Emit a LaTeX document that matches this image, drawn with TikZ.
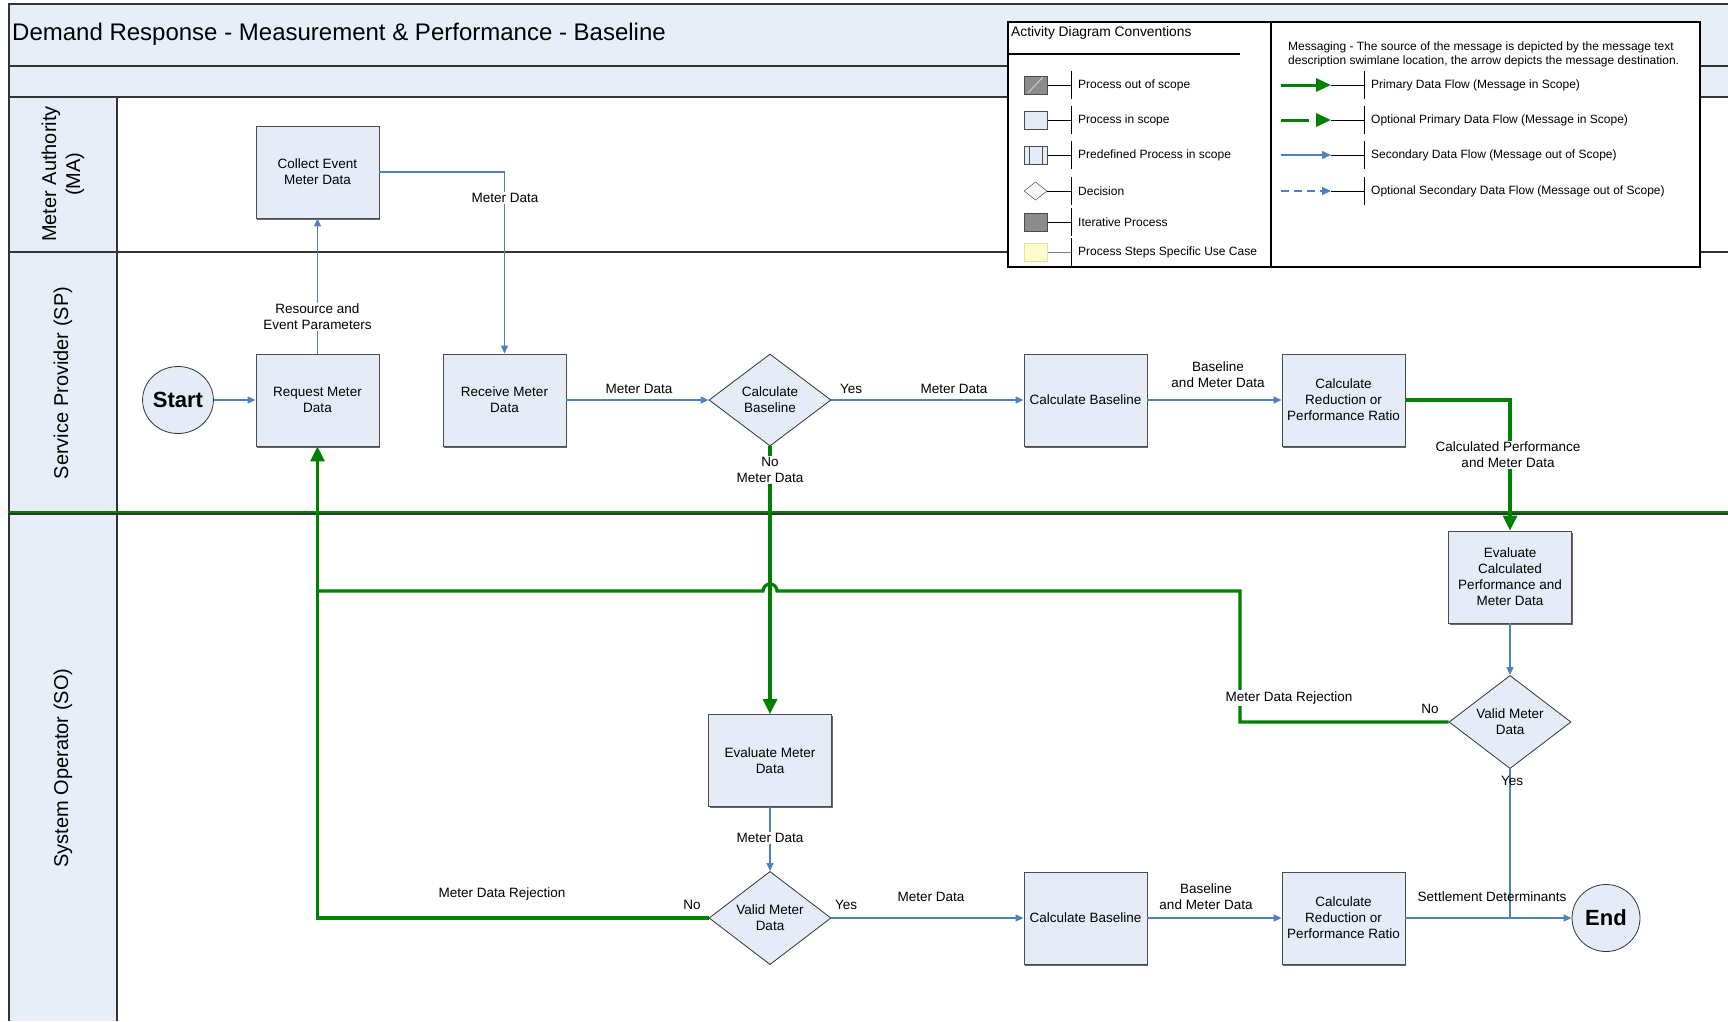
\documentclass[tikz,border=0pt]{standalone}
\usepackage{fontspec}
\setmainfont{Liberation Sans}
\usetikzlibrary{arrows.meta,shapes.geometric,shadows,calc}
\definecolor{lbl}{HTML}{E8EEF7}
\definecolor{boxfill}{HTML}{E6ECF7}
\definecolor{flowblue}{HTML}{4F81BD}
\definecolor{flowgreen}{HTML}{008000}
\begin{document}
\begin{tikzpicture}[x=1pt,y=-1pt,
  lbltext/.style={font=\fontsize{13.5}{16}\selectfont, align=center, inner sep=1.5pt},
  wlab/.style={lbltext, fill=white},
  proc/.style={draw=black!70, line width=0.9pt, fill=boxfill, minimum width=123pt, minimum height=92pt, align=center, font=\fontsize{13.5}{16}\selectfont, inner sep=1pt, drop shadow={shadow xshift=1pt, shadow yshift=-1.5pt, fill=black!60, opacity=1}},
  dec/.style={draw=black!80, line width=0.8pt, fill=boxfill, shape=diamond, minimum width=122pt, minimum height=92pt, inner sep=0pt, align=center, font=\fontsize{13.5}{16}\selectfont},
  term/.style={draw=black!80, line width=0.8pt, fill=boxfill, ellipse, minimum width=68pt, minimum height=67pt, inner sep=0pt, font=\fontsize{22}{24}\selectfont\bfseries},
  bflow/.style={draw=flowblue, line width=1.2pt, -{Triangle[length=8pt,width=7pt]}},
  bline/.style={draw=flowblue, line width=1.2pt},
  gflow/.style={draw=flowgreen, line width=3.2pt, -{Triangle[length=15pt,width=14pt]}},
  gline/.style={draw=flowgreen, line width=3.2pt},
  lane/.style={draw=black!80, line width=1.2pt},
  legtext/.style={font=\fontsize{12}{14}\selectfont, anchor=west, inner sep=0pt},
  legline/.style={draw=black, line width=0.8pt},
]
\useasboundingbox (0,0) rectangle (1728,1021);
\fill[white] (0,0) rectangle (1728,1021);
% bands and lanes
\fill[lbl] (9,4) rectangle (1728,97);
\fill[lbl] (9,97) rectangle (117,1021);
\draw[lane] (1728,4) -- (9,4) -- (9,1021);
\draw[lane] (9,66) -- (1728,66);
\draw[lane] (9,97) -- (1728,97);
\draw[lane] (9,252) -- (1728,252);
\draw[lane] (9,514) -- (1728,514);
\draw[lane] (117,97) -- (117,1021);
\draw[flowgreen, line width=2.5pt] (8,512.2) -- (1728,512.2);

\node[anchor=west, font=\fontsize{24}{28}\selectfont, inner sep=0pt] (title) at (12,34) {Demand Response - Measurement \& Performance - Baseline};

\node[rotate=90, align=center, font=\fontsize{20}{24}\selectfont] (laneMA) at (63,174) {Meter Authority\\(MA)};
\node[rotate=90, font=\fontsize{20}{24}\selectfont] (laneSP) at (63,383) {Service Provider (SP)};
\node[rotate=90, font=\fontsize{20}{24}\selectfont] (laneSO) at (63,768) {System Operator (SO)};

% process nodes
\node[proc] (collect) at (317.5,172) {Collect Event\\Meter Data};
\node[term] (start) at (178,400) {Start};
\node[proc] (request) at (317.5,400) {Request Meter\\Data};
\node[proc] (receive) at (504.5,400) {Receive Meter\\Data};
\node[dec] (calcdec) at (770,400) {Calculate\\Baseline};
\node[proc] (cbsp) at (1085.5,400) {Calculate Baseline};
\node[proc] (crsp) at (1343.5,400) {Calculate\\Reduction or\\Performance Ratio};
\node[proc] (evalcalc) at (1510,577) {Evaluate\\Calculated\\Performance and\\Meter Data};
\node[dec] (validr) at (1510,722) {Valid Meter\\Data};
\node[proc] (evalmeter) at (770,760.5) {Evaluate Meter\\Data};
\node[dec] (validb) at (770,918) {Valid Meter\\Data};
\node[proc] (cbso) at (1085.5,918) {Calculate Baseline};
\node[proc] (crso) at (1343.5,918) {Calculate\\Reduction or\\Performance Ratio};
\node[term] (end) at (1606,918) {End};

% connectors
\draw[bflow] (start) -- (request);
\draw[bflow] (request) -- (collect);
\draw[bflow] (collect.east) -| (receive.north);
\draw[bflow] (receive) -- (calcdec);
\draw[bflow] (calcdec) -- (cbsp);
\draw[bflow] (cbsp) -- (crsp);
\draw[bflow] (evalcalc) -- (validr);
\draw[bflow] (evalmeter) -- (validb);
\draw[bflow] (validb) -- (cbso);
\draw[bflow] (cbso) -- (crso);
\draw[bflow] (crso) -- (end);
\draw[bline] (validr.south) -- (validr.south |- end.west);

\coordinate (rejy) at (1240,591);
\draw[gflow] (crsp.east) -| (evalcalc.north);
\draw[gflow] (calcdec.south) -- (evalmeter.north);
\draw[gflow] (validb.west) -| (request.south);
\draw[gline, line join=miter] (validr.west) -| (rejy) -- ($(evalmeter.north |- rejy)+(7,0)$) arc[start angle=0, end angle=180, radius=7pt] -- (request.south |- rejy);

% labels
\node[wlab] (lres) at (317.5,317) {Resource and\\Event Parameters};
\node[wlab] (lmd1) at (505,198) {Meter Data};
\node[lbltext] (lmd2) at (639,389) {Meter Data};
\node[lbltext] (lyes1) at (851,389) {Yes};
\node[lbltext] (lmd3) at (954,389) {Meter Data};
\node[lbltext] (lbmd1) at (1218,375) {Baseline\\and Meter Data};
\node[wlab] (lcpm) at (1508,455) {Calculated Performance\\and Meter Data};
\node[wlab] (lno1) at (770,470) {No\\Meter Data};
\node[wlab] (lmd4) at (770,838) {Meter Data};
\node[lbltext] (lrej1) at (502,894) {Meter Data Rejection};
\node[lbltext] (lno2) at (692,905) {No};
\node[lbltext] (lyes2) at (846,905) {Yes};
\node[lbltext] (lmd5) at (931,897) {Meter Data};
\node[lbltext] (lbmd2) at (1206,897) {Baseline\\and Meter Data};
\node[lbltext] (lset) at (1492,897) {Settlement Determinants};
\node[lbltext] (lyes3) at (1512,781) {Yes};
\node[wlab] (lrej2) at (1289,698) {Meter Data Rejection};
\node[lbltext] (lno3) at (1430,709) {No};

% legend
\draw[black, line width=1.8pt, fill=white] (1008,22) rectangle (1700,267);
\draw[black, line width=1.8pt] (1271,22) -- (1271,267);
\node[anchor=west, font=\fontsize{13.8}{15}\selectfont, inner sep=0pt] (legtitle) at (1011,33) {Activity Diagram Conventions};
\draw[line width=1.5pt] (1008,54) -- (1240,54);

% left legend rows
\foreach \yy in {85,120,155,191,222,252} {
  \draw[legline] (1071,\yy-14) -- (1071,\yy+14);
}
\draw[legline] (1047,85) -- (1071,85);
\draw[legline] (1047,120) -- (1071,120);
\draw[legline] (1047,155) -- (1071,155);
\draw[legline] (1047,191) -- (1071,191);
\draw[legline] (1047,222) -- (1071,222);
\draw[draw=black!50, line width=0.8pt] (1047,252) -- (1071,252);

\draw[black!70, fill=black!45] (1024,76) rectangle (1047,94);
\draw[black!20, line width=1pt] (1028,93) -- (1043,77);
\draw[black!70, fill=boxfill] (1024,111) rectangle (1047,129);
\draw[black!70, fill=boxfill] (1024,146) rectangle (1047,164);
\draw[black!70] (1029,146) -- (1029,164) (1042,146) -- (1042,164);
\draw[black!80, fill=boxfill!40!white] (1024,191) -- (1035.5,182) -- (1047,191) -- (1035.5,200) -- cycle;
\draw[black!70, fill=black!45] (1024,213) rectangle (1047,231);
\draw[yellow!50!gray!50, fill=yellow!20] (1024,243) rectangle (1047,261);

\node[legtext] (lg1) at (1078,85) {Process out of scope};
\node[legtext] (lg2) at (1078,120) {Process in scope};
\node[legtext] (lg3) at (1078,155) {Predefined Process in scope};
\node[legtext] (lg4) at (1078,191) {Decision};
\node[legtext] (lg5) at (1078,222) {Iterative Process};
\node[legtext] (lg6) at (1078,252) {Process Steps Specific Use Case};

% right legend rows
\node[anchor=west, align=left, font=\fontsize{12}{14}\selectfont, inner sep=0pt] (lgmsg) at (1288,54) {Messaging - The source of the message is depicted by the message text\\description swimlane location, the arrow depicts the message destination.};
\foreach \yy in {85,120,155,191} {
  \draw[legline] (1364,\yy-14) -- (1364,\yy+14);
  \draw[legline] (1331,\yy) -- (1364,\yy);
}
\draw[draw=flowgreen, line width=3pt, -{Triangle[length=15pt,width=13pt]}] (1281,85) -- (1331,85);
\draw[draw=flowgreen, line width=3pt, dash pattern=on 28pt off 20pt, -{Triangle[length=15pt,width=13pt]}] (1281,120) -- (1331,120);
\draw[draw=flowblue, line width=1.2pt, -{Triangle[length=9pt,width=8pt]}] (1281,155) -- (1331,155);
\draw[draw=flowblue, line width=1.2pt, dash pattern=on 8pt off 5pt, -{Triangle[length=9pt,width=8pt]}] (1281,191) -- (1331,191);

\node[legtext] (lr1) at (1371,85) {Primary Data Flow (Message in Scope)};
\node[legtext] (lr2) at (1371,120) {Optional Primary Data Flow (Message in Scope)};
\node[legtext] (lr3) at (1371,155) {Secondary Data Flow (Message out of Scope)};
\node[legtext] (lr4) at (1371,191) {Optional Secondary Data Flow (Message out of Scope)};
\end{tikzpicture}
\end{document}
